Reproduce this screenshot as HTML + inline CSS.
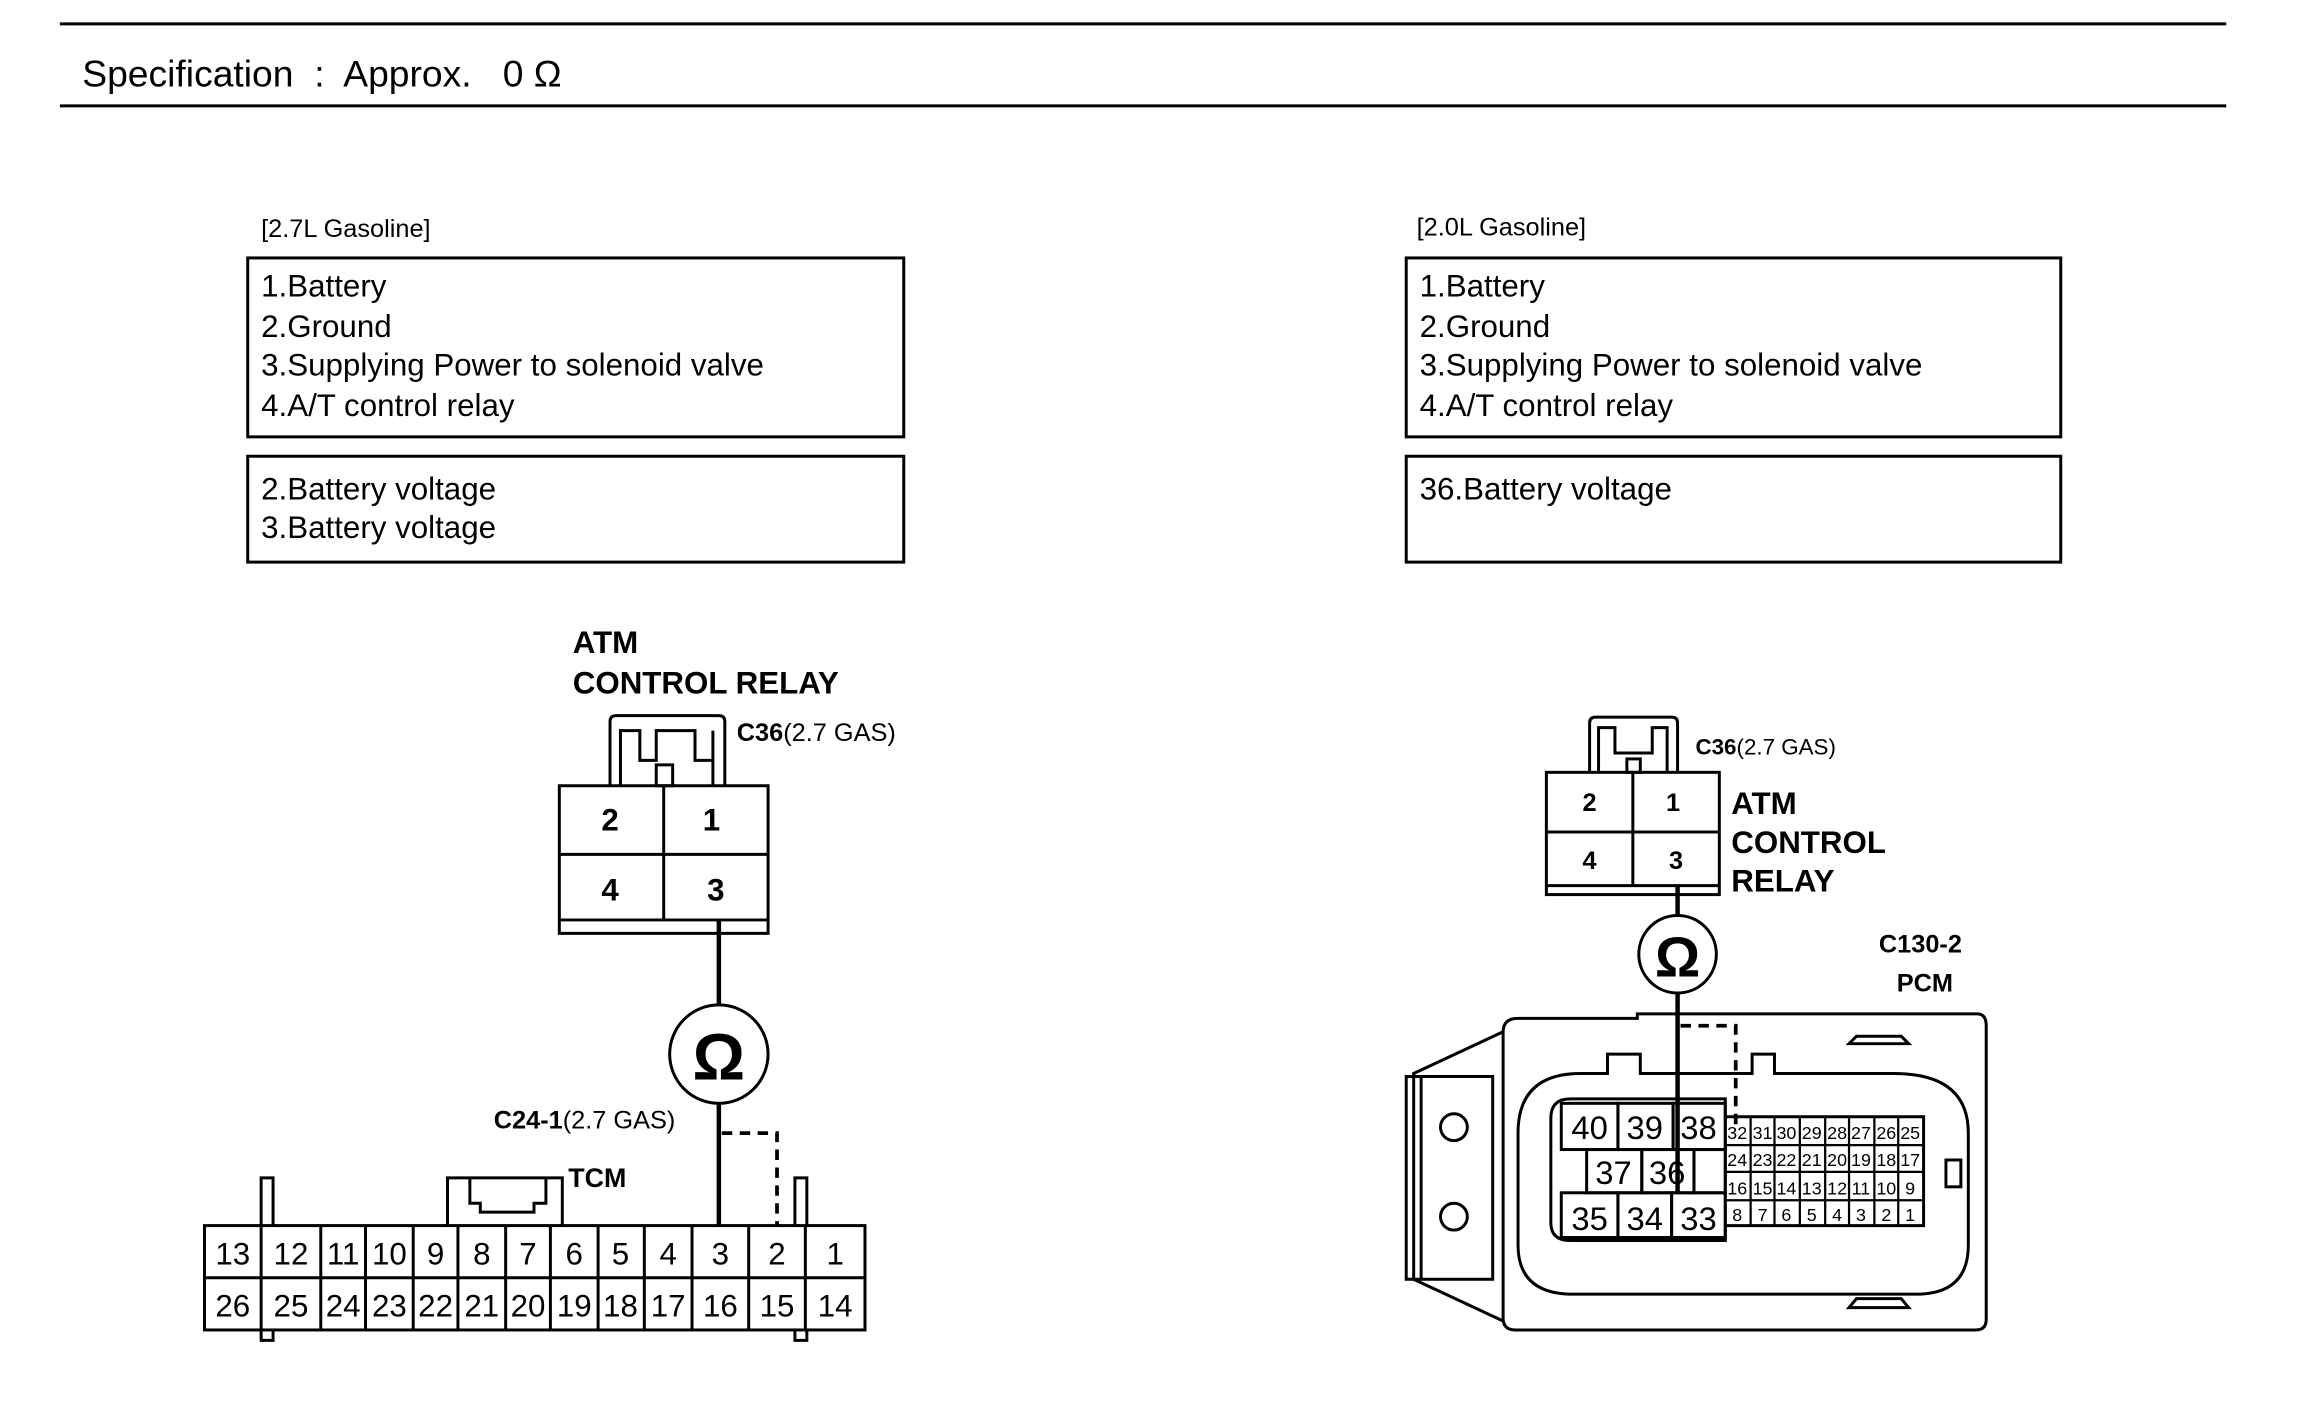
<!DOCTYPE html>
<html><head><meta charset="utf-8"><style>
html,body{margin:0;padding:0;background:#fff;}
svg{display:block;}
text{font-family:"Liberation Sans",Arial,sans-serif;fill:#000;}
.b{font-weight:bold;}
.pre{white-space:pre;}
</style></head><body>
<svg width="2304" height="1406" viewBox="0 0 1545 943" xmlns="http://www.w3.org/2000/svg">
<g stroke="#000" fill="none" stroke-width="2">
<line x1="40" y1="16" x2="1493" y2="16"/>
<line x1="40" y1="71" x2="1493" y2="71"/>
<rect x="166" y="173" width="440" height="120"/>
<rect x="166" y="306" width="440" height="71"/>
<rect x="943" y="173" width="439" height="120"/>
<rect x="943" y="306" width="439" height="71"/>
</g>
<text x="55" y="58" font-size="25" class="pre" xml:space="preserve">Specification  :  Approx.   0 Ω</text>
<text x="175" y="159" font-size="17">[2.7L Gasoline]</text>
<text x="950" y="158" font-size="17">[2.0L Gasoline]</text>
<g font-size="21">
<text x="175" y="199">1.Battery</text><text x="175" y="226">2.Ground</text>
<text x="175" y="252">3.Supplying Power to solenoid valve</text><text x="175" y="279">4.A/T control relay</text>
<text x="175" y="335">2.Battery voltage</text><text x="175" y="361">3.Battery voltage</text>
<text x="952" y="199">1.Battery</text><text x="952" y="226">2.Ground</text>
<text x="952" y="252">3.Supplying Power to solenoid valve</text><text x="952" y="279">4.A/T control relay</text>
<text x="952" y="335">36.Battery voltage</text>
</g>

<text x="384" y="438" font-size="21" class="b">ATM</text>
<text x="384" y="465" font-size="21" class="b">CONTROL RELAY</text>
<text x="494" y="497" font-size="17"><tspan class="b">C36</tspan>(2.7 GAS)</text>
<g stroke="#000" fill="none" stroke-width="2">
<path d="M409 527 V484 Q409 480 413 480 H482 Q486 480 486 484 V527"/>
<path d="M416 527 V490 H429 V510 H440 V490 H466 V510 H478 V490 V527"/>
<rect x="440" y="513" width="11" height="14"/>
<rect x="375" y="527" width="140" height="99"/>
<line x1="445" y1="527" x2="445" y2="617"/>
<line x1="375" y1="573" x2="515" y2="573"/>
<line x1="375" y1="617" x2="515" y2="617"/>
<line x1="482" y1="617" x2="482" y2="675" stroke-width="3"/>
<circle cx="482" cy="707" r="33"/>
<line x1="482" y1="740" x2="482" y2="822" stroke-width="3"/>
<path d="M484 760 H521 V822" stroke-dasharray="7,5" stroke-width="2.5"/>
<rect x="137" y="822" width="443" height="70"/>
<line x1="137" y1="857" x2="580" y2="857"/>
<path d="M175 822V892M215 822V892M245 822V892M277 822V892M307 822V892M339 822V892M369 822V892M401 822V892M432 822V892M464 822V892M502 822V892M540 822V892"/>
<path d="M175 822 V790 H183 V822 M175 892 V899 H183 V892"/>
<path d="M533 822 V790 H541 V822 M533 892 V899 H541 V892"/>
<path d="M300 822 V790 H377 V822"/>
<path d="M315 790 V807 H322 V813 H358 V807 H366 V790"/>
</g>
<text x="482" y="724" font-size="44" class="b" text-anchor="middle">Ω</text>
<g font-size="21" class="b" text-anchor="middle">
<text x="409" y="557">2</text><text x="477" y="557">1</text>
<text x="409" y="604">4</text><text x="480" y="604">3</text>
</g>
<text x="331" y="757" font-size="17"><tspan class="b">C24-1</tspan>(2.7 GAS)</text>
<text x="381" y="796" font-size="18" class="b">TCM</text>
<g font-size="21" text-anchor="middle">
<text x="156" y="848">13</text><text x="195" y="848">12</text><text x="230" y="848">11</text><text x="261" y="848">10</text><text x="292" y="848">9</text><text x="323" y="848">8</text><text x="354" y="848">7</text><text x="385" y="848">6</text><text x="416" y="848">5</text><text x="448" y="848">4</text><text x="483" y="848">3</text><text x="521" y="848">2</text><text x="560" y="848">1</text>
<text x="156" y="883">26</text><text x="195" y="883">25</text><text x="230" y="883">24</text><text x="261" y="883">23</text><text x="292" y="883">22</text><text x="323" y="883">21</text><text x="354" y="883">20</text><text x="385" y="883">19</text><text x="416" y="883">18</text><text x="448" y="883">17</text><text x="483" y="883">16</text><text x="521" y="883">15</text><text x="560" y="883">14</text>
</g>

<text x="1137" y="506" font-size="15"><tspan class="b">C36</tspan>(2.7 GAS)</text>
<text x="1161" y="546" font-size="21" class="b">ATM</text>
<text x="1161" y="572" font-size="21" class="b">CONTROL</text>
<text x="1161" y="598" font-size="21" class="b">RELAY</text>
<text x="1260" y="639" font-size="17" class="b">C130-2</text>
<text x="1272" y="665" font-size="17" class="b">PCM</text>
<g stroke="#000" fill="none" stroke-width="2">
<path d="M1066 518 V485 Q1066 481 1070 481 H1121 Q1125 481 1125 485 V518"/>
<path d="M1072 518 V488 H1083 V505 H1108 V488 H1118 V518"/>
<rect x="1091" y="509" width="9" height="9"/>
<rect x="1037" y="518" width="116" height="82"/>
<line x1="1095" y1="518" x2="1095" y2="594"/>
<line x1="1037" y1="558" x2="1153" y2="558"/>
<line x1="1037" y1="594" x2="1153" y2="594"/>
<line x1="1125" y1="594" x2="1125" y2="614" stroke-width="3"/>
<circle cx="1125" cy="640" r="26"/>
<line x1="1125" y1="666" x2="1125" y2="800" stroke-width="3"/>
<path d="M1127 688 H1164 V757" stroke-dasharray="7,5" stroke-width="2.5"/>
<path d="M1008 692 Q1008 683 1018 683 H1098 V680 H1326 Q1332 680 1332 688 V885 Q1332 892 1325 892 H1016 Q1008 892 1008 884 Z"/>
<path d="M1008 692 L948 720 V858 L1008 886"/>
<rect x="943" y="722" width="58" height="136"/>
<line x1="953" y1="722" x2="953" y2="858"/>
<circle cx="975" cy="756" r="9"/><circle cx="975" cy="816" r="9"/>
<path d="M1018 760 Q1018 720 1060 720 H1078 V707 H1100 V720 H1175 V707 H1190 V720 H1270 Q1320 720 1320 760 V835 Q1320 868 1285 868 H1055 Q1018 868 1018 835 Z"/>
<path d="M1240 700 L1245 695 H1275 L1280 700 Z"/>
<path d="M1240 877 L1245 871 H1275 L1280 877 Z"/>
<rect x="1305" y="778" width="10" height="18"/>
<path d="M1040 750 Q1040 737 1053 737 H1157 V832 H1053 Q1040 832 1040 820 Z"/>
<path d="M1157 749 H1290 V822 H1157"/>
<rect x="1047" y="740" width="38" height="31"/><rect x="1085" y="740" width="37" height="31"/><rect x="1122" y="740" width="35" height="31"/>
<rect x="1064" y="771" width="37" height="29"/><rect x="1101" y="771" width="35" height="29"/><rect x="1136" y="771" width="21" height="29"/>
<rect x="1047" y="800" width="38" height="30"/><rect x="1085" y="800" width="36" height="30"/><rect x="1121" y="800" width="36" height="30"/>
<path d="M1157 768H1290M1157 786H1290M1157 805H1290M1174 749V822M1190 749V822M1207 749V822M1224 749V822M1240 749V822M1257 749V822M1273 749V822" stroke-width="1.5"/>
</g>
<text x="1125" y="655" font-size="38" class="b" text-anchor="middle">Ω</text>
<g font-size="17" class="b" text-anchor="middle">
<text x="1066" y="544">2</text><text x="1122" y="544">1</text>
<text x="1066" y="583">4</text><text x="1124" y="583">3</text>
</g>
<g font-size="22" text-anchor="middle">
<text x="1066" y="764">40</text><text x="1103" y="764">39</text><text x="1139" y="764">38</text>
<text x="1082" y="794">37</text><text x="1118" y="794">36</text>
<text x="1066" y="825">35</text><text x="1103" y="825">34</text><text x="1139" y="825">33</text>
</g>
<g font-size="12" text-anchor="middle">
<text x="1165" y="764">32</text><text x="1182" y="764">31</text><text x="1198" y="764">30</text><text x="1215" y="764">29</text><text x="1232" y="764">28</text><text x="1248" y="764">27</text><text x="1265" y="764">26</text><text x="1281" y="764">25</text>
<text x="1165" y="782">24</text><text x="1182" y="782">23</text><text x="1198" y="782">22</text><text x="1215" y="782">21</text><text x="1232" y="782">20</text><text x="1248" y="782">19</text><text x="1265" y="782">18</text><text x="1281" y="782">17</text>
<text x="1165" y="801">16</text><text x="1182" y="801">15</text><text x="1198" y="801">14</text><text x="1215" y="801">13</text><text x="1232" y="801">12</text><text x="1248" y="801">11</text><text x="1265" y="801">10</text><text x="1281" y="801">9</text>
<text x="1165" y="819">8</text><text x="1182" y="819">7</text><text x="1198" y="819">6</text><text x="1215" y="819">5</text><text x="1232" y="819">4</text><text x="1248" y="819">3</text><text x="1265" y="819">2</text><text x="1281" y="819">1</text>
</g>
</svg>
</body></html>
